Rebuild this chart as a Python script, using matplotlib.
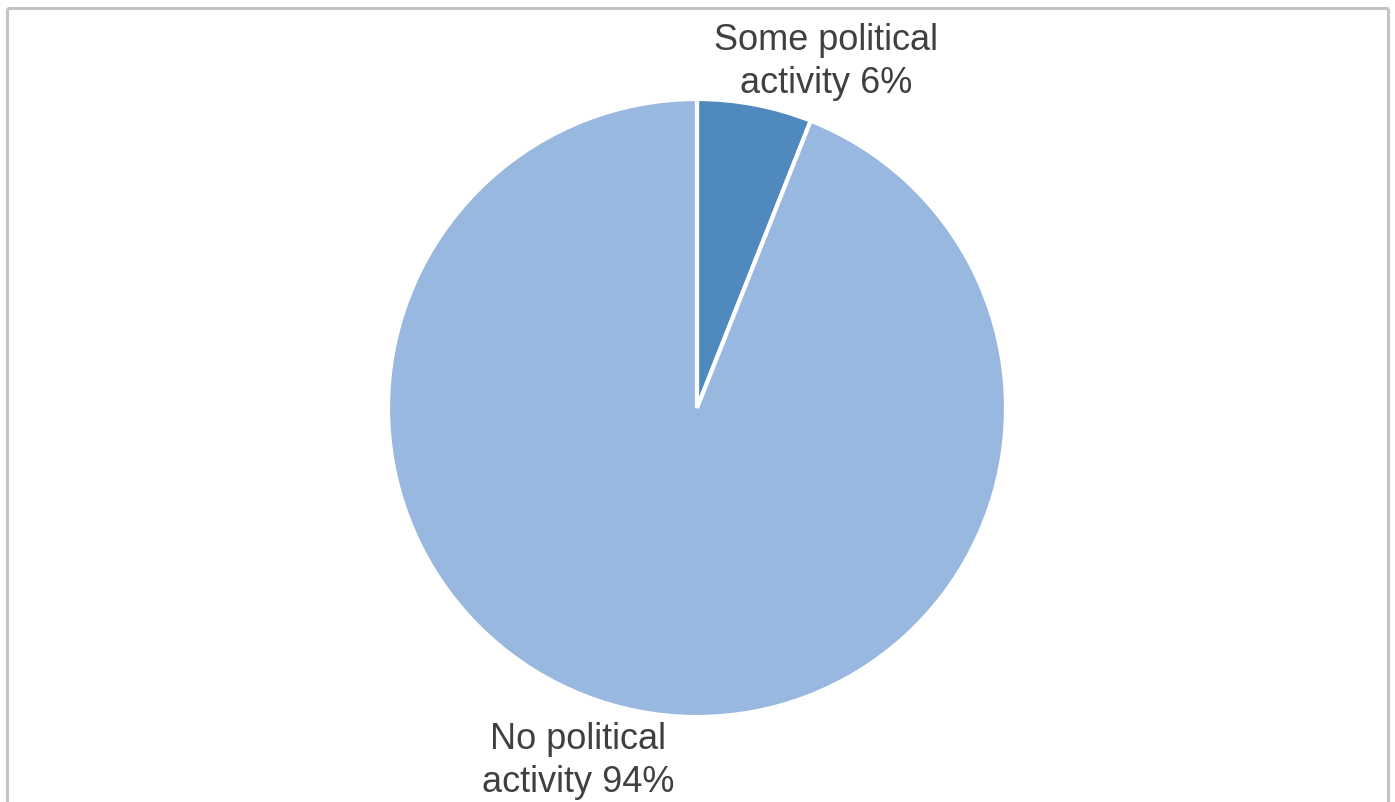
import matplotlib.pyplot as plt
from matplotlib.lines import Line2D

# Share of respondents by political activity
categories = ['Some political\nactivity', 'No political\nactivity']
shares = [6, 94]
slice_colors = ['#4F89BD', '#99B8DF']

W, H = 1395, 802
fig = plt.figure(figsize=(W / 100, H / 100), dpi=100)
ax = fig.add_axes([0, 0, 1, 1])

# pie in pixel units, centre and radius in figure pixels
cx, cy, r = 697, H - 408, 309
wedges, _ = ax.pie(shares, colors=slice_colors, startangle=90, counterclock=False,
                   center=(cx, cy), radius=r, frame=True,
                   wedgeprops=dict(edgecolor='white', linewidth=3))
ax.set_xlim(0, W)
ax.set_ylim(0, H)
ax.set_aspect('equal')
ax.axis('off')

# data labels outside the slices
label_pos = [(826, H - 62), (578, H - 761)]
for name, val, (lx, ly) in zip(categories, shares, label_pos):
    ax.text(lx, ly, f'{name} {val}%', ha='center', va='center',
            fontsize=26, family='Liberation Sans', color='#404040',
            linespacing=1.3)

# chart area outline (bottom edge runs off the image)
border = dict(color='#C4C4C4', linewidth=2.2, solid_capstyle='butt')
fig.add_artist(Line2D([6.5 / W, 6.5 / W], [0, 1 - 8 / H], transform=fig.transFigure, **border))
fig.add_artist(Line2D([1388 / W, 1388 / W], [0, 1 - 8 / H], transform=fig.transFigure, **border))
fig.add_artist(Line2D([6.5 / W, 1388 / W], [1 - 8 / H, 1 - 8 / H], transform=fig.transFigure, **border))

fig.savefig('out.png', dpi=100, facecolor='white')
